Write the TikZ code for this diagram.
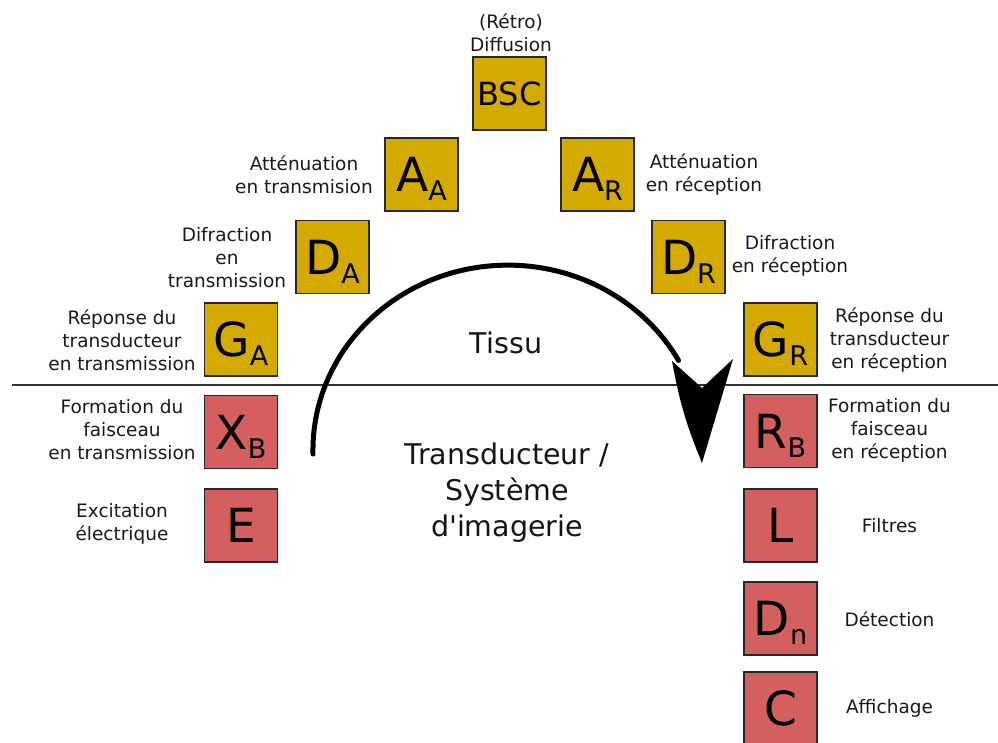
\documentclass[tikz,border=0pt]{standalone}
\usepackage{fontspec}
\setmainfont{DejaVu Sans}
\usepackage{xcolor}
\usepackage{tikz}
\pgfdeclarelayer{edgelayer}
\pgfdeclarelayer{nodelayer}
\pgfsetlayers{edgelayer,nodelayer,main}
\definecolor{tissugold}{HTML}{D4AA00}
\definecolor{systred}{HTML}{D35F5F}
\newcommand{\ix}[2]{#1\smash{\raisebox{-9pt}{\fontsize{27}{27}\selectfont #2}}}
\tikzstyle{none}=[inner sep=0mm]
\tikzstyle{box}=[shape=rectangle,draw={rgb,255:red,40;green,40;blue,40},line width=1.2pt,minimum size=73pt,inner sep=0pt,font=\fontsize{47}{47}\selectfont]
\tikzstyle{gbox}=[box,fill=tissugold]
\tikzstyle{rbox}=[box,fill=systred]
\tikzstyle{lbl}=[none,align=center,font=\fontsize{18.5}{23}\selectfont,text=black!90]
\tikzstyle{big}=[none,align=center,font=\fontsize{28.5}{36}\selectfont,text=black!92]
\tikzstyle{sep}=[line width=1.4pt,draw=black!80]
\tikzstyle{cycle arc}=[line width=5pt,line cap=round]

\begin{document}
\begin{tikzpicture}[x=1pt,y=-1pt]
	\useasboundingbox (0,0) rectangle (998,742);
	\begin{pgfonlayer}{nodelayer}
		% tissu
		\node [style=gbox] (bsc) at (509.5, 93.5) {\fontsize{32}{32}\selectfont BSC};
		\node [style=gbox] (aa) at (421.5, 174.5) {\ix{A}{A}};
		\node [style=gbox] (ar) at (597.5, 174.5) {\ix{A}{R}};
		\node [style=gbox] (da) at (332.5, 257) {\ix{D}{A}};
		\node [style=gbox] (dr) at (688.5, 257) {\ix{D}{R}};
		\node [style=gbox] (ga) at (241, 339.5) {\ix{G}{A}};
		\node [style=gbox] (gr) at (780.5, 339.5) {\ix{G}{R}};
		% transducteur
		\node [style=rbox] (xb) at (241, 432) {\ix{X}{B}};
		\node [style=rbox] (e) at (241, 525.5) {E};
		\node [style=rbox] (rb) at (780.5, 431) {\ix{R}{B}};
		\node [style=rbox] (l) at (780.5, 525.5) {L};
		\node [style=rbox] (dn) at (780.5, 618.5) {\ix{D}{n}};
		\node [style=rbox] (c) at (780.5, 708.5) {C};
		% labels
		\node [style=lbl] (bsct) at (511, 33) {(Rétro)\\Diffusion};
		\node [style=lbl] (aat) at (304, 175) {Atténuation\\en transmision};
		\node [style=lbl] (art) at (704, 175) {Atténuation\\en réception};
		\node [style=lbl] (dat) at (227, 258) {Difraction\\en\\transmission};
		\node [style=lbl] (drt) at (790, 256) {Difraction\\en réception};
		\node [style=lbl] (gat) at (122, 340) {Réponse du\\transducteur\\en transmission};
		\node [style=lbl] (grt) at (889.5, 340) {Réponse du\\transducteur\\en réception};
		\node [style=lbl] (xbt) at (122, 430) {Formation du\\faisceau\\en transmission};
		\node [style=lbl] (rbt) at (889.5, 430) {Formation du\\faisceau\\en réception};
		\node [style=lbl] (et) at (122, 524) {Excitation\\électrique};
		\node [style=lbl] (lt) at (889.5, 526) {Filtres};
		\node [style=lbl] (dnt) at (889.5, 619) {Détection};
		\node [style=lbl] (ct) at (889.5, 708) {Affichage};
		\node [style=big] (tissu) at (506, 343) {Tissu};
		\node [style=big] (syst) at (507, 493) {Transducteur /\\Système\\d\textquotesingle imagerie};
		\coordinate (hl) at (12, 385);
		\coordinate (hr) at (998, 385);
		\coordinate (arcstart) at (313, 454);
		\coordinate (tip) at (702, 463);
		\coordinate (lbarb) at (672, 361);
		\coordinate (notch) at (702, 388);
		\coordinate (rbarb) at (733, 359);
	\end{pgfonlayer}
	\begin{pgfonlayer}{edgelayer}
		\draw [style=sep] (hl) -- (hr);
		\draw [style=cycle arc] (arcstart) arc [start angle=178.8, end angle=331, x radius=195, y radius=185];
		\fill (lbarb) -- (notch) -- (rbarb) -- (tip) to[bend left=6] cycle;
	\end{pgfonlayer}
\end{tikzpicture}
\end{document}
